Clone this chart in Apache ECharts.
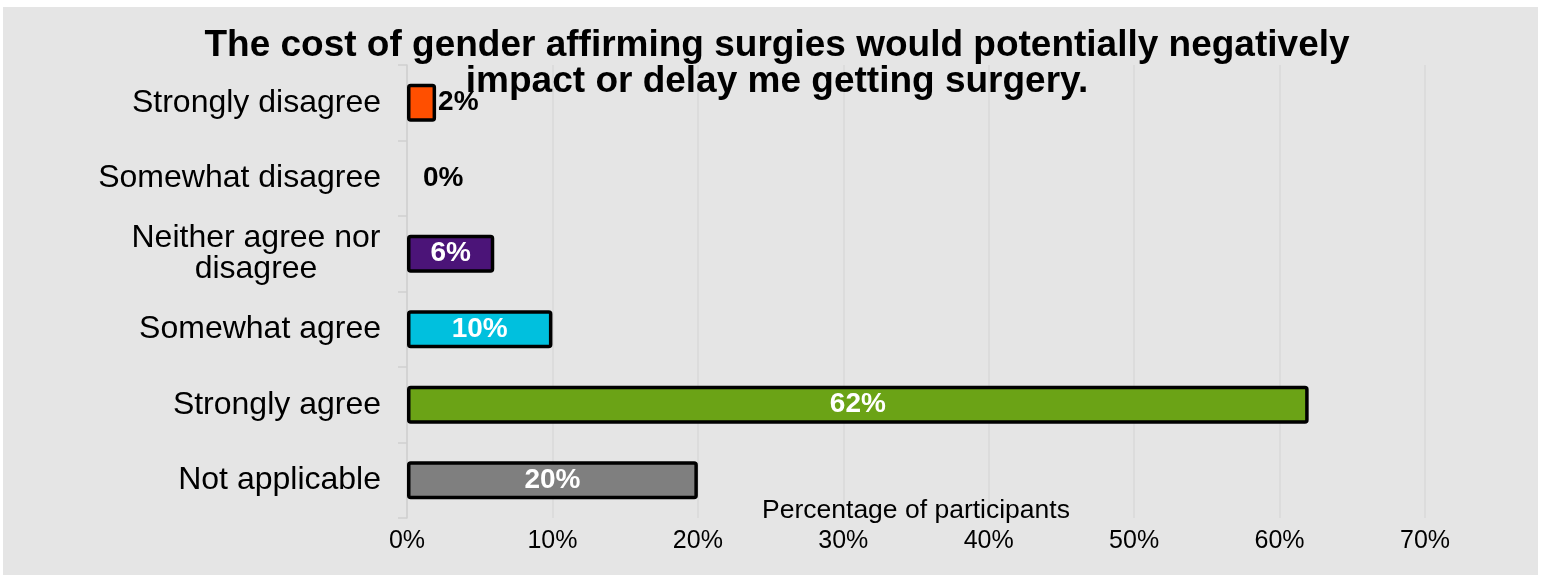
<!DOCTYPE html>
<html>
<head>
<meta charset="utf-8">
<script src="https://cdn.jsdelivr.net/npm/echarts@6/dist/echarts.min.js"></script>
<style>
html,body{margin:0;padding:0;background:#ffffff;}
#chart{width:1546px;height:575px;}
</style>
</head>
<body>
<div id="chart"></div>
<script>
const titleText = "The cost of gender affirming surgies would potentially negatively\nimpact or delay me getting surgery.";
const categories = ["Strongly disagree", "Somewhat disagree", "Neither agree nor disagree", "Somewhat agree", "Strongly agree", "Not applicable"];
const values = [2, 0, 6, 10, 62, 20];
const barColors = ["#ff4f00", "#9e9e9e", "#4b1478", "#00c0de", "#6ba316", "#7f7f7f"];
const xTicks = [0, 10, 20, 30, 40, 50, 60, 70];
const xAxisName = "Percentage of participants";

const FONT = "'Liberation Sans', Arial, Helvetica, sans-serif";
const chart = echarts.init(document.getElementById('chart'), null, {renderer: 'canvas'});

const seriesData = values.map((v, i) => {
  const item = {
    value: v,
    itemStyle: {color: barColors[i], borderColor: '#000', borderWidth: v === 0 ? 0 : 3.5, borderRadius: 2}
  };
  if (v < 5) {
    item.label = {position: 'right', distance: v === 0 ? 16 : 2, color: '#000'};
  }
  return item;
});

chart.setOption({
  backgroundColor: '#ffffff',
  animation: false,
  graphic: [{
    type: 'rect', z: -10, silent: true,
    shape: {x: 3, y: 7, width: 1535, height: 568},
    style: {fill: '#e5e5e5'}
  }],
  title: {
    text: titleText,
    left: 772,
    top: 23,
    textAlign: 'center',
    textStyle: {fontFamily: FONT, fontSize: 37, fontWeight: 'bold', color: '#000', lineHeight: 36}
  },
  grid: {left: 407, right: 121, top: 65, bottom: 57, containLabel: false, outerBoundsMode: 'none'},
  xAxis: {
    type: 'value',
    min: 0, max: 70, interval: 10,
    name: xAxisName,
    nameLocation: 'middle',
    nameGap: -21,
    nameMoveOverlap: false,
    nameTextStyle: {fontFamily: FONT, fontSize: 26.5, color: '#000'},
    axisLine: {show: false},
    axisTick: {show: false},
    axisLabel: {
      fontFamily: FONT, fontSize: 25, color: '#000', margin: 11,
      formatter: v => xTicks.includes(v) ? v + '%' : ''
    },
    splitLine: {show: true, lineStyle: {color: '#d9d9d9', width: 1.5}}
  },
  yAxis: {
    type: 'category',
    inverse: true,
    data: categories,
    axisLine: {show: true, lineStyle: {color: '#d0d0d0', width: 1.5}},
    axisTick: {show: true, length: 9, lineStyle: {color: '#d0d0d0', width: 1.5}},
    axisLabel: {
      fontFamily: FONT, fontSize: 32, color: '#000', margin: 26, lineHeight: 31,
      formatter: function (v) {
        if (v === "Neither agree nor disagree") {
          return '{c|Neither agree nor}\n{c|disagree}';
        }
        return v;
      },
      rich: {
        c: {fontFamily: FONT, fontSize: 32, color: '#000', align: 'center', width: 250, lineHeight: 31}
      }
    },
    splitLine: {show: false}
  },
  series: [{
    type: 'bar',
    data: seriesData,
    barWidth: 38,
    label: {
      show: true,
      position: 'inside',
      formatter: p => p.value + '%',
      fontFamily: FONT, fontSize: 28, fontWeight: 'bold', color: '#fff'
    }
  }]
});
</script>
</body>
</html>
